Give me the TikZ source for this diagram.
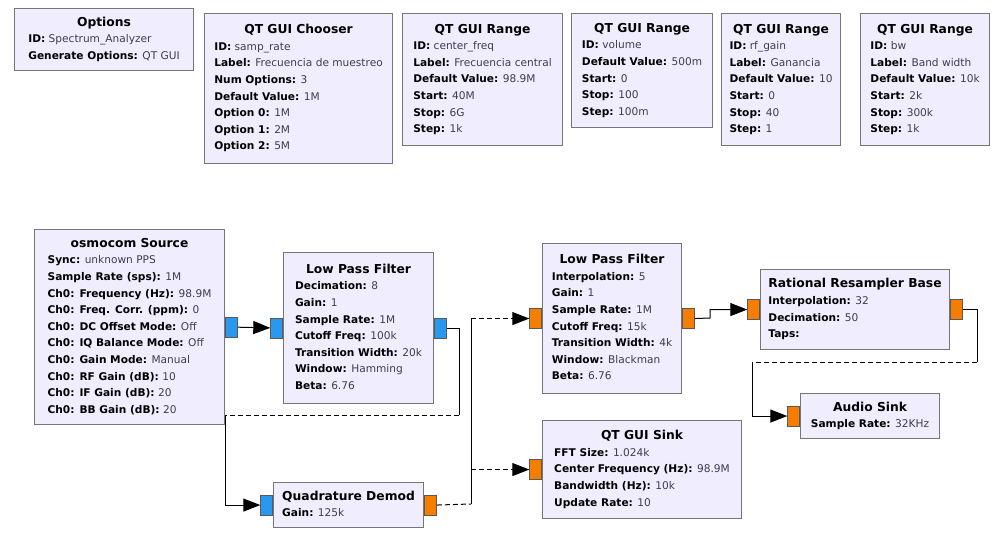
\documentclass[tikz,border=0pt]{standalone}
\usepackage{fontspec}
\setmainfont{DejaVu Sans}
\usetikzlibrary{arrows.meta}
\definecolor{blkFill}{HTML}{F0EEFE}
\definecolor{blkLine}{HTML}{767676}
\definecolor{cpxPort}{HTML}{2A98EE}
\definecolor{fltPort}{HTML}{F57E00}
\definecolor{valText}{HTML}{3C3C50}
\newcommand{\ttl}[1]{\multicolumn{1}{@{}c@{}}{\fontsize{12.3}{16.6}\selectfont\bfseries #1}}
\newcommand{\prm}[2]{\textbf{#1:} \textcolor{valText}{#2}}

\begin{document}
\begin{tikzpicture}[x=1pt,y=-1pt,
    blk/.style={draw=blkLine,fill=blkFill,line width=1.1pt,anchor=north west,inner sep=0pt,
      font=\fontsize{10.6}{16.6}\selectfont},
    port/.style={draw=black!65,line width=0.7pt,minimum width=12pt,minimum height=20pt,inner sep=0pt},
    wire/.style={line width=1pt,black},
    gap/.style={dash pattern=on 5pt off 3pt},
    flow/.style={-{Triangle[length=17pt,width=13pt]}}]
  \useasboundingbox (0,0) rectangle (1002,540);
  % blocks: name/x/y/width/height/text
  \foreach \n/\x/\y/\w/\h/\body in {
      opt/14/8/179/62/{\ttl{Options}\\ \prm{ID}{Spectrum\_Analyzer}\\ \prm{Generate Options}{QT GUI}},
      chs/204/13/188/150/{\ttl{QT GUI Chooser}\\ \prm{ID}{samp\_rate}\\ \prm{Label}{Frecuencia de muestreo}\\
        \prm{Num Options}{3}\\ \prm{Default Value}{1M}\\ \prm{Option 0}{1M}\\ \prm{Option 1}{2M}\\ \prm{Option 2}{5M}},
      rcf/402/13/160/132/{\ttl{QT GUI Range}\\ \prm{ID}{center\_freq}\\ \prm{Label}{Frecuencia central}\\
        \prm{Default Value}{98.9M}\\ \prm{Start}{40M}\\ \prm{Stop}{6G}\\ \prm{Step}{1k}},
      rvol/571/13/141/114/{\ttl{QT GUI Range}\\ \prm{ID}{volume}\\ \prm{Default Value}{500m}\\
        \prm{Start}{0}\\ \prm{Stop}{100}\\ \prm{Step}{100m}},
      rrf/721/13/119/132/{\ttl{QT GUI Range}\\ \prm{ID}{rf\_gain}\\ \prm{Label}{Ganancia}\\
        \prm{Default Value}{10}\\ \prm{Start}{0}\\ \prm{Stop}{40}\\ \prm{Step}{1}},
      rbw/860/13/129/132/{\ttl{QT GUI Range}\\ \prm{ID}{bw}\\ \prm{Label}{Band width}\\
        \prm{Default Value}{10k}\\ \prm{Start}{2k}\\ \prm{Stop}{300k}\\ \prm{Step}{1k}},
      src/34/229/190/195/{\ttl{osmocom Source}\\ \prm{Sync}{unknown PPS}\\ \prm{Sample Rate (sps)}{1M}\\
        \prm{Ch0: Frequency (Hz)}{98.9M}\\ \prm{Ch0: Freq. Corr. (ppm)}{0}\\ \prm{Ch0: DC Offset Mode}{Off}\\
        \prm{Ch0: IQ Balance Mode}{Off}\\ \prm{Ch0: Gain Mode}{Manual}\\ \prm{Ch0: RF Gain (dB)}{10}\\
        \prm{Ch0: IF Gain (dB)}{20}\\ \prm{Ch0: BB Gain (dB)}{20}},
      lp1/283/252/150/151/{\ttl{Low Pass Filter}\\ \prm{Decimation}{8}\\ \prm{Gain}{1}\\ \prm{Sample Rate}{1M}\\
        \prm{Cutoff Freq}{100k}\\ \prm{Transition Width}{20k}\\ \prm{Window}{Hamming}\\ \prm{Beta}{6.76}},
      lp2/542/243/139/150/{\ttl{Low Pass Filter}\\ \prm{Interpolation}{5}\\ \prm{Gain}{1}\\ \prm{Sample Rate}{1M}\\
        \prm{Cutoff Freq}{15k}\\ \prm{Transition Width}{4k}\\ \prm{Window}{Blackman}\\ \prm{Beta}{6.76}},
      rs/760/269/189/80/{\ttl{Rational Resampler Base}\\ \prm{Interpolation}{32}\\ \prm{Decimation}{50}\\ \prm{Taps}{}},
      au/800/393/139/45/{\ttl{Audio Sink}\\ \prm{Sample Rate}{32KHz}},
      gs/542/420/199/98/{\ttl{QT GUI Sink}\\ \prm{FFT Size}{1.024k}\\ \prm{Center Frequency (Hz)}{98.9M}\\
        \prm{Bandwidth (Hz)}{10k}\\ \prm{Update Rate}{10}},
      qd/273/482/150/45/{\ttl{Quadrature Demod}\\ \prm{Gain}{125k}}} {
    \node[blk,minimum width=\w pt,minimum height=\h pt] (\n) at (\x,\y)
      {\begin{tabular}{@{}l@{}}\body\end{tabular}};
  }
  % ports
  \foreach \p/\b/\a/\c in {src-o/src.east/west/cpxPort, lp1-i/lp1.west/east/cpxPort, lp1-o/lp1.east/west/cpxPort,
      qd-i/qd.west/east/cpxPort, qd-o/qd.east/west/fltPort, lp2-i/lp2.west/east/fltPort,
      lp2-o/lp2.east/west/fltPort, rs-i/rs.west/east/fltPort, rs-o/rs.east/west/fltPort,
      au-i/au.west/east/fltPort, gs-i/gs.west/east/fltPort} {
    \node[port,fill=\c,anchor=\a] (\p) at (\b) {};
  }
  % connections
  \coordinate (j1) at (459,415);
  \coordinate (j2) at (225,415);
  \coordinate (j3) at (471,504);
  \coordinate (j4) at (710,318);
  \coordinate (j5) at (977,362);
  \coordinate (j6) at (752,362);
  \draw[wire,flow] (src-o) -- (lp1-i);
  \draw[wire] (lp1-o.east) -- (lp1-o.east -| j1) -- (j1);
  \draw[wire,gap] (j1) -- (j2);
  \draw[wire,flow] (j2) |- (qd-i.west);
  \draw[wire,gap] (qd-o.east) -- (j3);
  \draw[wire] (j3) -- (lp2-i -| j3);
  \draw[wire,gap,flow] (lp2-i -| j3) -- (lp2-i.west);
  \draw[wire,gap,flow] (gs-i -| j3) -- (gs-i.west);
  \draw[wire,flow] (lp2-o.east) -- (j4) |- (rs-i.west);
  \draw[wire] (rs-o.east) -| (j5);
  \draw[wire,gap] (j5) -- (j6);
  \draw[wire,flow] (j6) |- (au-i.west);
\end{tikzpicture}
\end{document}
